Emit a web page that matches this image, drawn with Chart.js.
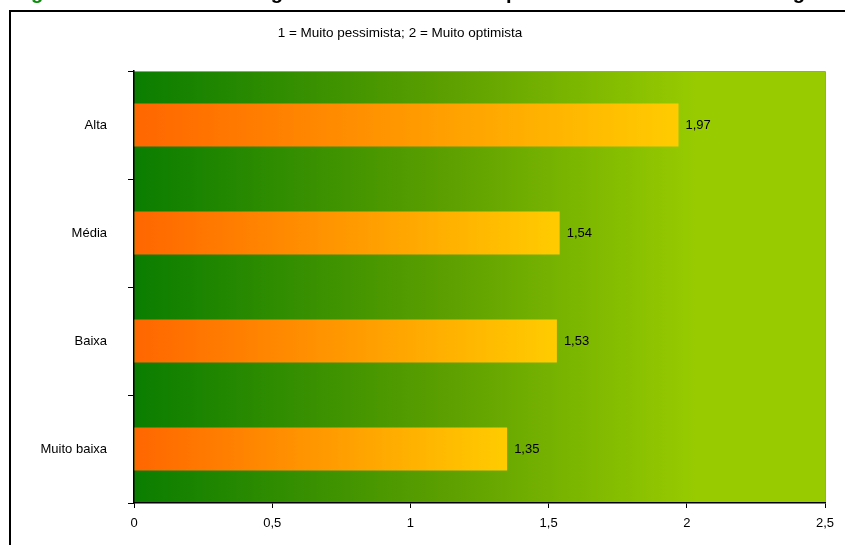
<!DOCTYPE html>
<html>
<head>
<meta charset="utf-8">
<script src="https://cdn.jsdelivr.net/npm/chart.js@4.4.1/dist/chart.umd.min.js"></script>
<style>
  html, body { margin: 0; padding: 0; background: #fff; }
  #wrap { width: 845px; height: 545px; }
</style>
</head>
<body>
<div id="wrap"><canvas id="c" width="845" height="545"></canvas></div>
<script>
// Nível (categorias) e índice médio de expectativa
const categories = ['Alta', 'Média', 'Baixa', 'Muito baixa'];
const values = [1.97, 1.54, 1.53, 1.35];
const xTicks = [0, 0.5, 1, 1.5, 2, 2.5];
const subtitle = '1 = Muito pessimista; 2 = Muito optimista';

const FONT = '"Liberation Sans", Arial, sans-serif';
const fmt = v => String(v).replace('.', ',');

// Moldura da figura, cabeçalho cortado e subtítulo
const framePlugin = {
  id: 'frame',
  beforeDraw(chart) {
    const { ctx, chartArea: a } = chart;
    ctx.save();
    // fundo em degradê da área do gráfico
    const g = ctx.createLinearGradient(a.left, 0, a.right, 0);
    g.addColorStop(0, '#0a7d00');
    g.addColorStop(0.45, '#5c9f00');
    g.addColorStop(0.82, '#99cc00');
    g.addColorStop(1, '#99cc00');
    ctx.fillStyle = g;
    ctx.fillRect(a.left, a.top, a.right - a.left, a.bottom - a.top);
    // contorno cinzento (topo e direita)
    ctx.strokeStyle = '#9a9a9a';
    ctx.lineWidth = 1;
    ctx.beginPath();
    ctx.moveTo(a.left, a.top + 0.5);
    ctx.lineTo(a.right + 0.5, a.top + 0.5);
    ctx.lineTo(a.right + 0.5, a.bottom);
    ctx.stroke();
    ctx.restore();
  },
  afterDraw(chart) {
    const { ctx } = chart;
    ctx.save();
    // moldura
    ctx.fillStyle = '#000';
    ctx.fillRect(9, 10, 2, 540);
    ctx.fillRect(9, 10, 840, 2);
    // título (apenas a parte inferior fica visível)
    ctx.font = 'bold 20px ' + FONT;
    ctx.textBaseline = 'alphabetic';
    ctx.textAlign = 'left';
    const parts = [
      { text: 'Figura', anchor: 2, x: 31, color: '#0a8a0a' },
      { text: 'segundo', anchor: 3, x: 283, color: '#000' },
      { text: 'pela', anchor: 0, x: 506, color: '#000' },
      { text: 'região', anchor: 3, x: 805, color: '#000' }
    ];
    parts.forEach(p => {
      const off = ctx.measureText(p.text.slice(0, p.anchor)).width;
      ctx.fillStyle = p.color;
      ctx.fillText(p.text, p.x - off, -1);
    });
    // subtítulo
    ctx.font = '13.5px ' + FONT;
    ctx.fillStyle = '#000';
    ctx.textAlign = 'center';
    ctx.textBaseline = 'middle';
    ctx.fillText(subtitle, 400, 33);
    ctx.restore();
  },
  afterDatasetsDraw(chart) {
    const { ctx } = chart;
    const meta = chart.getDatasetMeta(0);
    ctx.save();
    ctx.font = '13px ' + FONT;
    ctx.fillStyle = '#000';
    ctx.textAlign = 'left';
    ctx.textBaseline = 'middle';
    meta.data.forEach((bar, i) => {
      ctx.fillText(fmt(values[i]), bar.x + 7, bar.y);
    });
    ctx.restore();
  }
};

function barGradient(context) {
  const chart = context.chart;
  const xs = chart.scales.x;
  if (!chart.chartArea || !xs || context.raw === undefined) return '#ff9900';
  const x0 = xs.getPixelForValue(0);
  const x1 = xs.getPixelForValue(context.raw);
  const g = chart.ctx.createLinearGradient(x0, 0, x1, 0);
  g.addColorStop(0, '#ff6600');
  g.addColorStop(1, '#ffcc00');
  return g;
}

new Chart(document.getElementById('c'), {
  type: 'bar',
  data: {
    labels: categories,
    datasets: [{
      data: values,
      backgroundColor: barGradient,
      borderWidth: 0,
      barPercentage: 0.4,
      categoryPercentage: 1.0
    }]
  },
  options: {
    indexAxis: 'y',
    responsive: false,
    animation: false,
    devicePixelRatio: 1,
    layout: { padding: { top: 71, right: 20, left: 0, bottom: 0 } },
    plugins: {
      legend: { display: false },
      tooltip: { enabled: false }
    },
    scales: {
      x: {
        min: 0,
        max: 2.5,
        afterFit(s) { s.height = 42; },
        afterBuildTicks(s) { s.ticks = xTicks.map(v => ({ value: v })); },
        ticks: {
          color: '#000',
          font: { family: FONT, size: 13 },
          padding: 8,
          maxRotation: 0,
          callback: v => fmt(v)
        },
        grid: { drawOnChartArea: false, drawTicks: true, tickLength: 5, color: '#000', lineWidth: 1 },
        border: { display: true, color: '#000', width: 1.5 }
      },
      y: {
        afterFit(s) { s.width = 134; },
        ticks: {
          color: '#000',
          font: { family: FONT, size: 13 },
          padding: 21
        },
        grid: { offset: true, drawOnChartArea: false, drawTicks: true, tickLength: 6, color: '#000', lineWidth: 1 },
        border: { display: true, color: '#000', width: 1.5 }
      }
    }
  },
  plugins: [framePlugin]
});
</script>
</body>
</html>
